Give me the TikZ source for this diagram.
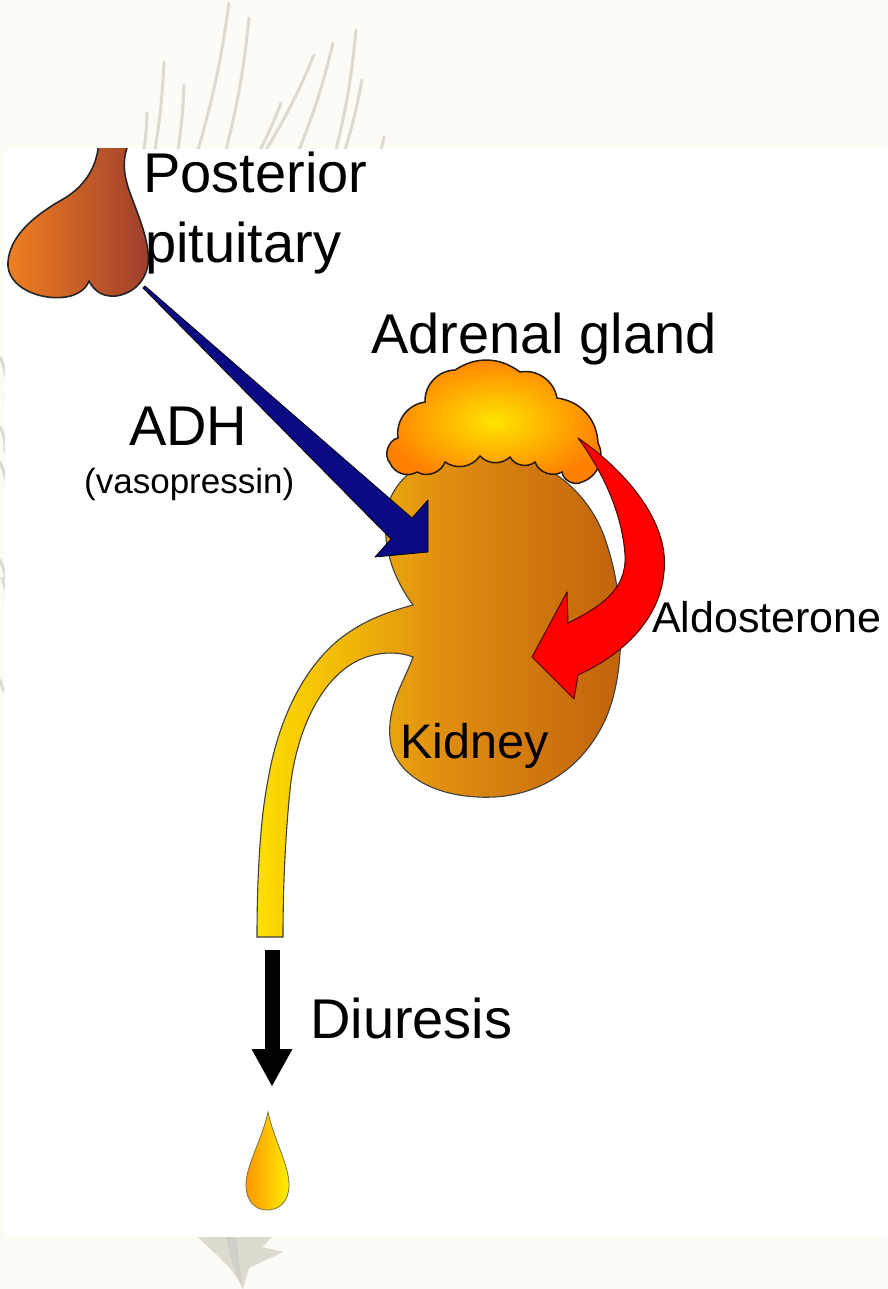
\documentclass[tikz,border=0pt]{standalone}
\usepackage{fontspec}
\setmainfont{Liberation Sans}
\usepackage{tikz}
\usetikzlibrary{arrows.meta}
\usepackage{xcolor}
\definecolor{paper}{RGB}{252,251,246}
\definecolor{quill}{RGB}{221,219,207}
\definecolor{glandorange}{RGB}{240,128,34}
\definecolor{glandbrown}{RGB}{158,60,44}
\definecolor{adhblue}{RGB}{10,10,132}
\definecolor{cortexyellow}{RGB}{255,228,0}
\definecolor{cortexorange}{RGB}{255,128,0}
\definecolor{ureteryellow}{RGB}{255,222,0}
\definecolor{kidneyorange}{RGB}{224,142,16}
\definecolor{kidneybrown}{RGB}{192,98,12}
\definecolor{aldored}{RGB}{255,0,0}
\definecolor{dropyellow}{RGB}{255,238,0}
\definecolor{droporange}{RGB}{255,150,0}

\begin{document}
\begin{tikzpicture}[x=1pt, y=-1pt,
  outline/.style={draw=black!85, line width=1.6pt, line join=round},
  quillstroke/.style={draw=quill, line width=3pt, line cap=round},
  label/.style={inner sep=0pt, anchor=base west, text=black},
  biglabel/.style={label, font=\fontsize{56}{60}\selectfont}]
  \useasboundingbox (0,0) rectangle (887,1289);
  % paper and faint quill strokes behind the panel
  \fill[paper] (0,0) rectangle (887,1289);
  \draw[quillstroke] (229,3) to[bend left=4] (198,150);
  \draw[quillstroke] (249,18) to[bend left=4] (226,150);
  \draw[quillstroke] (164,62) to[bend left=3] (155,150);
  \draw[quillstroke] (184,85) to[bend left=3] (178,150);
  \draw[quillstroke] (147,113) to[bend left=3] (144,150);
  \draw[quillstroke] (314,55) to[bend left=4] (266,150);
  \draw[quillstroke] (333,43) to[bend left=4] (299,150);
  \draw[quillstroke] (356,30) to[bend left=4] (336,150);
  \draw[quillstroke] (362,80) to[bend left=3] (345,150);
  \draw[quillstroke] (281,103) to[bend left=3] (260,150);
  \draw[quillstroke] (384,137) -- (381,150);
  \draw[quillstroke] (0,357) to[bend left=15] (6,400);
  \draw[quillstroke] (0,427) to[bend left=15] (5,452);
  \draw[quillstroke] (0,462) to[bend left=15] (7,513);
  \draw[quillstroke] (0,560) to[bend left=15] (6,600);
  \draw[quillstroke] (2,578) to[bend left=15] (7,633);
  \draw[quillstroke] (0,680) -- (3,690);
  \fill[quill] (198,1237) .. controls (215,1255) and (232,1265) .. (243,1289)
    -- (249,1268) -- (283,1252) -- (262,1247) -- (272,1237) -- cycle;
  \fill[quill!80!black!60] (226,1237) -- (232,1262) -- (243,1289) -- (236,1237) -- cycle;
  % white panel
  \fill[white] (5,149) rectangle (887,1237);

  \begin{scope}
    \clip (5,149) rectangle (887,1237);
    % posterior pituitary
    \draw[outline, left color=glandorange, right color=glandbrown]
      (99,140) .. controls (98,165) and (86,185) .. (65,198)
      .. controls (40,212) and (10,233) .. (8,262)
      .. controls (6,287) and (40,301) .. (66,297)
      .. controls (78,295) and (86,289) .. (89,281)
      .. controls (95,293) and (105,297) .. (116,296)
      .. controls (137,293) and (151,275) .. (148,252)
      .. controls (146,232) and (136,210) .. (129,190)
      .. controls (123,172) and (122,158) .. (130,140) -- cycle;
  \end{scope}

  % kidney with ureter
  \draw[draw=black!75, line width=1.1pt, left color=ureteryellow,
      right color=kidneybrown, middle color=kidneyorange]
    (413,605) .. controls (396,582) and (383,552) .. (386,518)
    .. controls (388,488) and (410,458) .. (470,452)
    .. controls (540,448) and (592,490) .. (608,548)
    .. controls (626,605) and (626,685) .. (600,730)
    .. controls (575,775) and (530,800) .. (478,797)
    .. controls (430,795) and (393,772) .. (390,738)
    .. controls (387,705) and (405,680) .. (413,657)
    .. controls (395,650) and (370,652) .. (350,665)
    .. controls (315,688) and (295,740) .. (290,790)
    .. controls (285,840) and (283,890) .. (283,937)
    -- (257,937)
    .. controls (257,880) and (260,820) .. (268,780)
    .. controls (280,710) and (310,660) .. (345,635)
    .. controls (370,617) and (395,610) .. (413,605) -- cycle;

  % adrenal gland
  \draw[draw=black!80!brown, line width=1.5pt, inner color=cortexyellow,
      outer color=cortexorange]
    (390,463) to[bend left=60] (398,438) to[bend left=45] (425,402)
    to[bend left=45] (455,370) to[bend left=35] (520,372)
    to[bend left=45] (557,398) to[bend left=40] (598,443)
    to[bend left=50] (582,482) to[bend left=55] (562,472)
    to[bend left=50] (535,462) to[bend left=50] (510,457)
    to[bend left=45] (480,456) to[bend left=45] (445,462)
    to[bend left=50] (417,472) to[bend left=50] (390,463) -- cycle;

  % aldosterone arrow
  \coordinate (aldo tail) at (578,438);
  \coordinate (aldo tip) at (532,657);
  \draw[draw=black!70!red, line width=1pt, fill=aldored, line join=round]
    (aldo tail) .. controls (622,468) and (670,520) .. (664,572)
    .. controls (660,620) and (622,655) .. (578,675)
    -- (574,699) -- (aldo tip) -- (567,592) -- (568,623)
    .. controls (600,607) and (627,590) .. (625,555)
    .. controls (622,510) and (600,468) .. (aldo tail) -- cycle;

  % ADH arrow
  \coordinate (adh tail) at (145,286);
  \coordinate (adh tip) at (428,552);
  \draw[draw=black, line width=0.8pt, fill=adhblue, line join=round]
    (adh tail) -- (412,518) -- (428,500) -- (adh tip) -- (375,557)
    -- (391,539) -- (143,288) -- cycle;

  % urine flow and drop
  \coordinate (ureter end) at (272,950);
  \coordinate (flow tip) at (272,1086);
  \draw[line width=15pt, -{Triangle[length=37pt, width=41pt, line width=0pt]}]
    (ureter end) -- (flow tip);
  \draw[draw=black!60!yellow, line width=0.8pt, left color=droporange,
      right color=dropyellow]
    (268,1112) .. controls (262,1140) and (246,1165) .. (246,1185)
    .. controls (246,1202) and (256,1210) .. (267,1210)
    .. controls (279,1210) and (289,1202) .. (289,1185)
    .. controls (289,1165) and (274,1140) .. (268,1112) -- cycle;

  % labels
  \node[biglabel] (posterior) at (143,193) {Posterior};
  \node[biglabel] (pituitary) at (145,262) {pituitary};
  \node[biglabel] (adrenal) at (371,353) {Adrenal gland};
  \node[biglabel] (adh) at (129,445) {ADH};
  \node[label, font=\fontsize{35}{40}\selectfont] (vaso) at (84,493) {(vasopressin)};
  \node[label, font=\fontsize{43}{48}\selectfont] (aldo) at (652,632) {Aldosterone};
  \node[label, font=\fontsize{48.5}{52}\selectfont] (kidney) at (400,758) {Kidney};
  \node[biglabel] (diuresis) at (310,1038) {Diuresis};
\end{tikzpicture}
\end{document}
